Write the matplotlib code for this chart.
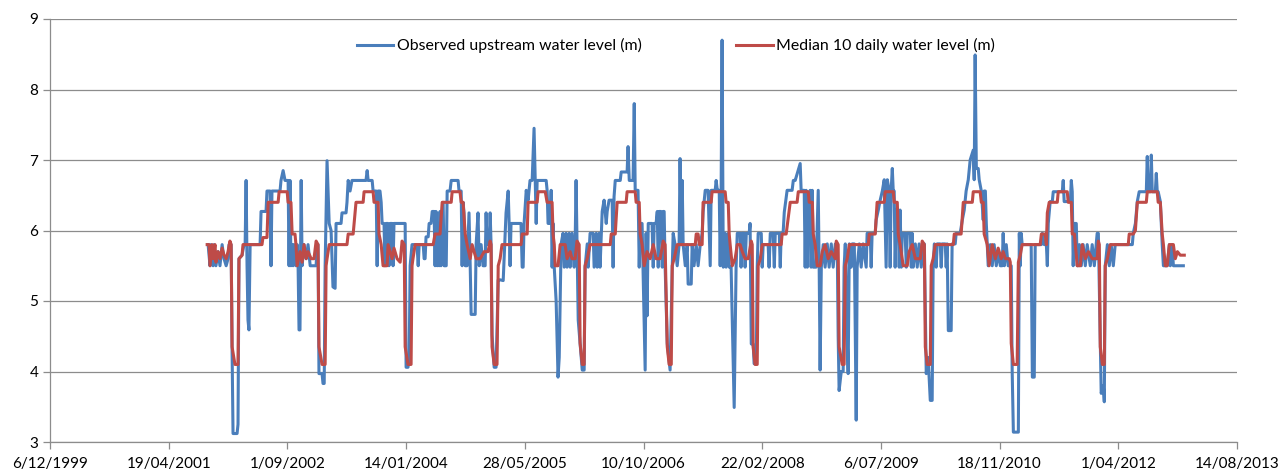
import datetime as dt
import matplotlib
matplotlib.use("Agg")
import matplotlib.pyplot as plt
from matplotlib.ticker import FuncFormatter, MultipleLocator

# Excel date serials (days since 30/12/1899) and water levels (m)
obs_days = [
    37166, 37174, 37178, 37187, 37191, 37199, 37208, 37216, 37225, 37233, 37242, 37250, 37254, 37263,
    37267, 37271, 37288, 37292, 37296, 37309, 37317, 37322, 37326, 37330, 37334, 37338, 37343, 37385,
    37389, 37410, 37414, 37427, 37431, 37435, 37469, 37473, 37482, 37490, 37503, 37507, 37511, 37515,
    37520, 37524, 37528, 37536, 37541, 37545, 37549, 37553, 37558, 37562, 37570, 37579, 37587, 37596,
    37621, 37625, 37629, 37633, 37646, 37650, 37655, 37659, 37667, 37671, 37676, 37684, 37692, 37701,
    37705, 37726, 37730, 37747, 37751, 37756, 37764, 37772, 37831, 37836, 37840, 37857, 37861, 37874,
    37878, 37882, 37890, 37895, 37899, 37907, 37911, 37916, 37924, 37928, 37933, 37941, 37945, 37949,
    37996, 38000, 38008, 38013, 38017, 38025, 38046, 38051, 38055, 38072, 38076, 38080, 38084, 38093,
    38097, 38105, 38110, 38118, 38122, 38126, 38131, 38135, 38139, 38143, 38147, 38156, 38160, 38169,
    38173, 38185, 38190, 38219, 38223, 38232, 38236, 38240, 38244, 38249, 38257, 38265, 38270, 38274,
    38291, 38295, 38303, 38308, 38316, 38324, 38333, 38337, 38341, 38350, 38354, 38358, 38362, 38371,
    38379, 38388, 38396, 38409, 38413, 38421, 38430, 38434, 38438, 38442, 38484, 38489, 38493, 38497,
    38506, 38514, 38522, 38531, 38539, 38548, 38552, 38590, 38594, 38598, 38607, 38611, 38615, 38619,
    38624, 38632, 38640, 38645, 38653, 38661, 38666, 38674, 38678, 38687, 38691, 38699, 38708, 38712,
    38716, 38720, 38725, 38733, 38742, 38750, 38754, 38763, 38767, 38775, 38788, 38792, 38801, 38805,
    38813, 38817, 38826, 38834, 38843, 38847, 38855, 38868, 38872, 38876, 38881, 38902, 38906, 38931,
    38935, 38940, 38956, 38961, 38965, 38977, 38982, 38986, 38994, 39007, 39011, 39015, 39020, 39036,
    39041, 39045, 39053, 39058, 39062, 39066, 39074, 39079, 39083, 39087, 39091, 39100, 39112, 39121,
    39125, 39133, 39142, 39150, 39154, 39159, 39163, 39167, 39176, 39184, 39188, 39201, 39205, 39213,
    39222, 39230, 39239, 39247, 39251, 39260, 39272, 39281, 39285, 39302, 39306, 39311, 39319, 39323,
    39327, 39331, 39336, 39344, 39348, 39357, 39361, 39369, 39382, 39386, 39390, 39395, 39407, 39411,
    39416, 39424, 39428, 39433, 39445, 39449, 39454, 39462, 39466, 39475, 39479, 39483, 39496, 39500,
    39504, 39525, 39529, 39534, 39546, 39551, 39555, 39572, 39576, 39580, 39588, 39593, 39605, 39626,
    39631, 39639, 39660, 39664, 39677, 39681, 39685, 39690, 39694, 39702, 39706, 39711, 39715, 39727,
    39736, 39740, 39744, 39749, 39757, 39765, 39774, 39782, 39791, 39799, 39808, 39816, 39820, 39824,
    39833, 39841, 39845, 39850, 39858, 39862, 39867, 39875, 39879, 39888, 39892, 39896, 39900, 39909,
    39917, 39925, 39938, 39942, 39955, 39959, 39963, 39976, 39980, 39989, 39997, 40006, 40014, 40022,
    40027, 40035, 40039, 40043, 40048, 40052, 40056, 40060, 40065, 40073, 40077, 40081, 40086, 40090,
    40102, 40107, 40111, 40124, 40128, 40132, 40136, 40145, 40153, 40161, 40170, 40178, 40183, 40191,
    40199, 40208, 40216, 40220, 40225, 40233, 40237, 40250, 40254, 40258, 40271, 40275, 40279, 40284,
    40296, 40300, 40313, 40317, 40334, 40343, 40351, 40359, 40368, 40376, 40389, 40393, 40397, 40402,
    40410, 40414, 40423, 40431, 40435, 40440, 40444, 40452, 40461, 40469, 40477, 40486, 40494, 40503,
    40511, 40515, 40520, 40528, 40536, 40545, 40549, 40553, 40558, 40579, 40583, 40587, 40591, 40595,
    40633, 40638, 40646, 40650, 40676, 40680, 40688, 40697, 40701, 40705, 40713, 40722, 40726, 40764,
    40768, 40772, 40798, 40802, 40806, 40810, 40815, 40823, 40827, 40836, 40844, 40852, 40861, 40869,
    40882, 40890, 40899, 40907, 40911, 40916, 40924, 40928, 40937, 40941, 40945, 40954, 40962, 40970,
    40979, 40987, 41059, 41063, 41072, 41080, 41088, 41118, 41122, 41126, 41135, 41139, 41143, 41156,
    41160, 41164, 41168, 41177, 41185, 41190, 41206, 41215, 41219, 41227, 41232, 41274,
]
obs_level = [
    5.80, 5.50, 5.80, 5.50, 5.80, 5.50, 5.70, 5.50, 5.80, 5.60, 5.50, 5.60, 5.80, 5.80,
    4.30, 3.12, 3.12, 3.25, 5.60, 5.65, 5.80, 5.80, 6.71, 5.50, 4.73, 4.59, 5.80, 5.80,
    6.27, 6.27, 6.56, 6.56, 5.50, 6.56, 6.56, 6.71, 6.85, 6.71, 6.71, 5.50, 6.71, 5.50,
    5.80, 5.50, 5.80, 5.50, 5.80, 5.50, 4.59, 4.59, 6.71, 5.50, 5.80, 5.60, 5.80, 5.50,
    5.50, 5.80, 5.80, 3.97, 3.97, 3.83, 3.83, 5.50, 6.99, 6.60, 6.10, 6.00, 5.20, 5.18,
    6.10, 6.10, 6.25, 6.25, 6.40, 6.71, 6.56, 6.71, 6.71, 6.85, 6.71, 6.71, 6.56, 6.56,
    5.50, 6.56, 6.56, 6.40, 6.10, 6.10, 5.50, 6.10, 6.10, 5.50, 6.10, 6.10, 5.50, 6.10,
    6.10, 4.06, 4.06, 4.20, 5.50, 5.80, 5.80, 5.50, 5.80, 5.80, 5.60, 5.60, 5.91, 5.91,
    6.10, 6.10, 6.27, 6.27, 5.50, 6.27, 5.50, 6.10, 5.50, 6.27, 5.50, 6.40, 5.50, 5.50,
    6.56, 6.56, 6.71, 6.71, 6.56, 6.56, 5.50, 6.40, 6.25, 5.50, 5.50, 6.25, 5.50, 4.81,
    4.81, 5.80, 6.25, 5.50, 5.80, 5.50, 5.50, 6.25, 5.80, 5.80, 6.25, 5.80, 4.52, 4.06,
    4.06, 5.30, 5.30, 5.29, 5.60, 6.25, 6.56, 6.10, 5.50, 6.10, 6.10, 5.48, 5.48, 6.10,
    6.57, 6.43, 6.71, 6.71, 7.45, 6.10, 6.71, 6.71, 6.57, 6.10, 6.10, 6.57, 5.48, 6.10,
    5.48, 5.00, 3.92, 4.20, 5.81, 5.96, 5.48, 5.96, 5.48, 5.96, 5.48, 5.96, 5.48, 5.81,
    6.71, 5.81, 4.73, 4.40, 4.02, 4.02, 5.48, 5.81, 5.48, 5.96, 5.96, 5.48, 5.96, 5.48,
    5.96, 5.48, 6.27, 6.43, 6.10, 6.27, 6.43, 6.43, 5.48, 6.48, 6.71, 6.71, 6.83, 6.83,
    7.19, 6.71, 6.71, 7.80, 6.57, 6.57, 5.48, 6.10, 6.10, 4.02, 5.96, 4.79, 6.10, 6.10,
    5.48, 6.10, 6.10, 6.27, 5.48, 6.27, 6.27, 5.48, 6.27, 6.27, 5.50, 4.40, 4.02, 5.48,
    5.96, 5.80, 5.50, 5.80, 7.02, 5.80, 6.71, 5.80, 5.50, 5.80, 5.24, 5.24, 5.80, 5.50,
    5.80, 5.50, 5.80, 5.96, 6.26, 6.57, 6.57, 5.50, 6.57, 6.57, 6.71, 6.57, 6.57, 5.50,
    6.57, 8.70, 5.48, 5.96, 5.48, 5.96, 5.48, 5.48, 3.49, 4.50, 5.48, 5.96, 5.96, 5.48,
    5.96, 5.96, 5.48, 5.96, 5.96, 6.10, 4.39, 4.39, 4.11, 4.11, 5.48, 5.96, 5.96, 5.48,
    5.80, 5.80, 5.48, 5.96, 5.96, 5.48, 5.96, 5.96, 5.48, 5.96, 5.96, 6.26, 6.57, 6.57,
    6.71, 6.71, 6.95, 6.57, 6.57, 5.48, 6.57, 5.48, 6.26, 6.57, 5.48, 6.57, 5.48, 5.48,
    6.57, 5.48, 4.02, 5.48, 5.80, 5.48, 5.81, 5.48, 5.81, 5.48, 5.81, 5.81, 4.50, 3.73,
    4.00, 4.00, 5.48, 5.81, 4.50, 3.97, 5.81, 5.48, 5.81, 5.81, 4.50, 3.31, 5.48, 5.81,
    5.48, 5.81, 5.48, 5.96, 5.96, 5.48, 5.96, 5.96, 6.15, 6.29, 6.43, 6.56, 6.72, 5.48,
    6.72, 6.56, 5.48, 6.56, 6.88, 6.56, 6.56, 5.48, 6.29, 6.29, 5.48, 6.29, 5.48, 5.96,
    5.96, 5.48, 5.96, 5.96, 5.48, 5.96, 5.48, 5.81, 5.48, 5.81, 5.48, 5.81, 5.81, 3.97,
    4.20, 3.59, 3.59, 5.48, 5.81, 5.48, 5.81, 5.81, 5.48, 5.81, 5.81, 5.48, 5.81, 4.58,
    4.58, 5.81, 5.81, 5.96, 5.96, 6.15, 6.29, 6.56, 6.72, 7.00, 7.14, 6.72, 8.49, 6.88,
    6.88, 6.72, 6.56, 6.15, 6.56, 6.56, 6.10, 5.50, 5.80, 5.50, 5.80, 5.50, 5.70, 5.50,
    5.50, 5.96, 5.50, 5.80, 5.50, 5.50, 5.50, 4.00, 3.14, 3.14, 5.96, 5.50, 5.96, 5.80,
    5.80, 3.92, 3.92, 5.80, 5.80, 5.96, 5.80, 5.80, 5.50, 6.10, 6.41, 6.41, 6.55, 6.55,
    6.71, 6.41, 6.41, 6.71, 6.55, 5.50, 6.10, 6.10, 5.50, 5.80, 5.50, 5.80, 5.50, 5.80,
    5.50, 5.80, 5.50, 5.80, 5.96, 5.96, 4.50, 3.69, 3.80, 3.57, 5.50, 5.80, 5.50, 5.80,
    5.50, 5.80, 5.80, 5.96, 6.10, 6.41, 6.55, 6.55, 7.05, 6.55, 6.55, 7.07, 6.55, 6.55,
    6.81, 6.55, 6.55, 6.41, 5.80, 5.50, 5.50, 5.80, 5.50, 5.80, 5.50, 5.50,
]

med_days = [
    37162, 37170, 37174, 37183, 37187, 37195, 37199, 37208, 37216, 37225, 37233, 37242, 37250, 37258,
    37263, 37267, 37279, 37292, 37296, 37309, 37313, 37393, 37397, 37414, 37419, 37461, 37465, 37499,
    37503, 37515, 37520, 37532, 37536, 37541, 37553, 37562, 37570, 37579, 37587, 37600, 37612, 37621,
    37629, 37633, 37646, 37659, 37663, 37667, 37676, 37751, 37756, 37777, 37789, 37819, 37823, 37861,
    37865, 37882, 37886, 37895, 37903, 37920, 37924, 37941, 37949, 37962, 37975, 37983, 37992, 37996,
    38008, 38021, 38025, 38029, 38038, 38114, 38122, 38143, 38152, 38190, 38194, 38227, 38232, 38240,
    38249, 38257, 38270, 38278, 38295, 38312, 38329, 38345, 38354, 38358, 38362, 38371, 38383, 38388,
    38396, 38404, 38484, 38489, 38510, 38514, 38552, 38556, 38586, 38594, 38615, 38619, 38624, 38628,
    38640, 38649, 38670, 38678, 38691, 38699, 38712, 38720, 38729, 38733, 38742, 38750, 38754, 38763,
    38775, 38860, 38864, 38881, 38889, 38927, 38931, 38965, 38969, 38982, 38986, 38994, 39003, 39015,
    39028, 39041, 39053, 39070, 39083, 39091, 39100, 39108, 39117, 39121, 39129, 39142, 39218, 39222,
    39230, 39235, 39247, 39251, 39285, 39289, 39344, 39348, 39357, 39361, 39365, 39374, 39386, 39395,
    39407, 39416, 39428, 39441, 39454, 39458, 39462, 39470, 39479, 39483, 39492, 39500, 39580, 39584,
    39601, 39618, 39647, 39652, 39694, 39698, 39711, 39715, 39723, 39732, 39744, 39753, 39765, 39778,
    39791, 39808, 39812, 39820, 39824, 39837, 39845, 39850, 39858, 39867, 39947, 39951, 39976, 39984,
    40014, 40018, 40052, 40056, 40069, 40073, 40081, 40094, 40111, 40119, 40132, 40145, 40166, 40174,
    40183, 40187, 40195, 40208, 40212, 40220, 40229, 40305, 40309, 40338, 40347, 40385, 40389, 40418,
    40423, 40431, 40435, 40448, 40456, 40469, 40482, 40494, 40507, 40515, 40524, 40541, 40545, 40549,
    40558, 40574, 40579, 40587, 40595, 40671, 40676, 40692, 40697, 40701, 40709, 40743, 40747, 40785,
    40789, 40802, 40806, 40815, 40819, 40827, 40840, 40848, 40861, 40874, 40890, 40911, 40916, 40920,
    40924, 40933, 40941, 40945, 40954, 40966, 41042, 41046, 41063, 41072, 41080, 41118, 41122, 41164,
    41168, 41177, 41185, 41190, 41198, 41206, 41215, 41232, 41240, 41249, 41261, 41278,
]
med_level = [
    5.80, 5.80, 5.50, 5.80, 5.60, 5.80, 5.55, 5.70, 5.60, 5.75, 5.65, 5.60, 5.70, 5.85,
    5.80, 4.35, 4.10, 4.10, 5.60, 5.65, 5.80, 5.80, 5.90, 5.90, 6.40, 6.40, 6.55, 6.55,
    6.40, 6.40, 5.95, 5.95, 5.80, 5.50, 5.70, 5.55, 5.80, 5.60, 5.70, 5.60, 5.60, 5.85,
    5.80, 4.35, 4.10, 4.10, 5.50, 5.60, 5.80, 5.80, 5.95, 5.95, 6.40, 6.40, 6.55, 6.55,
    6.40, 6.40, 5.95, 5.80, 5.50, 5.50, 5.80, 5.60, 5.75, 5.60, 5.55, 5.85, 5.80, 4.35,
    4.10, 4.10, 5.50, 5.60, 5.80, 5.80, 5.95, 5.95, 6.40, 6.40, 6.55, 6.55, 6.40, 6.40,
    5.95, 5.80, 5.60, 5.80, 5.60, 5.60, 5.70, 5.70, 5.85, 5.80, 4.35, 4.10, 4.10, 5.50,
    5.60, 5.80, 5.80, 5.95, 5.95, 6.40, 6.40, 6.55, 6.55, 6.40, 6.40, 5.95, 5.80, 5.50,
    5.50, 5.80, 5.80, 5.60, 5.70, 5.60, 5.60, 5.85, 5.80, 4.40, 4.10, 4.10, 5.50, 5.60,
    5.80, 5.80, 5.95, 5.95, 6.40, 6.40, 6.55, 6.55, 6.40, 6.40, 5.95, 5.80, 5.50, 5.70,
    5.60, 5.80, 5.60, 5.60, 5.85, 5.80, 4.35, 4.10, 4.10, 5.50, 5.60, 5.80, 5.80, 5.95,
    5.95, 5.80, 5.80, 6.40, 6.40, 6.55, 6.55, 6.40, 6.40, 5.95, 5.80, 5.50, 5.60, 5.80,
    5.80, 5.70, 5.60, 5.60, 5.85, 5.80, 4.35, 4.10, 4.10, 5.50, 5.60, 5.80, 5.80, 5.95,
    5.95, 6.40, 6.40, 6.55, 6.55, 6.40, 6.40, 5.95, 5.80, 5.50, 5.50, 5.70, 5.80, 5.60,
    5.70, 5.60, 5.85, 5.80, 4.35, 4.10, 4.10, 5.50, 5.60, 5.80, 5.80, 5.95, 5.95, 6.40,
    6.40, 6.55, 6.55, 6.40, 6.40, 5.95, 5.80, 5.50, 5.50, 5.70, 5.80, 5.60, 5.60, 5.85,
    5.80, 4.35, 4.10, 4.10, 5.50, 5.60, 5.80, 5.80, 5.95, 5.95, 6.40, 6.40, 6.55, 6.55,
    6.40, 6.40, 5.95, 5.80, 5.50, 5.80, 5.60, 5.75, 5.60, 5.70, 5.60, 5.60, 5.55, 4.40,
    4.10, 4.10, 5.55, 5.65, 5.80, 5.80, 5.95, 5.95, 5.80, 6.25, 6.40, 6.40, 6.55, 6.55,
    6.40, 6.40, 5.95, 5.95, 5.80, 5.50, 5.50, 5.80, 5.60, 5.70, 5.60, 5.60, 5.85, 5.80,
    4.35, 4.10, 4.10, 5.50, 5.60, 5.80, 5.80, 5.95, 5.95, 6.00, 6.40, 6.40, 6.55, 6.55,
    6.40, 6.40, 5.95, 5.80, 5.50, 5.50, 5.80, 5.80, 5.60, 5.70, 5.65, 5.65,
]

EXCEL_EPOCH = dt.datetime(1899, 12, 30)


def excel_date_label(x, pos):
    d = EXCEL_EPOCH + dt.timedelta(days=int(round(x)))
    return f"{d.day}/{d.month:02d}/{d.year}"


plt.rcParams['font.family'] = ['Lato', 'DejaVu Sans']

fig = plt.figure(figsize=(12.81, 4.72), dpi=100)
ax = fig.add_axes([50 / 1281, 1 - 442 / 472, (1237 - 50) / 1281, (442 - 19) / 472])

ax.plot(obs_days, obs_level, color='#4a7ebb', lw=2.2, label='Observed upstream water level (m)',
        solid_joinstyle='round')
ax.plot(med_days, med_level, color='#be4b48', lw=2.2, label='Median 10 daily water level (m)',
        solid_joinstyle='round')

ax.set_xlim(36500, 41500)
ax.set_ylim(3, 9)
ax.xaxis.set_major_locator(MultipleLocator(500))
ax.xaxis.set_major_formatter(FuncFormatter(excel_date_label))
ax.yaxis.set_major_locator(MultipleLocator(1))

ax.grid(axis='y', color='#8c8c8c', lw=0.9)
ax.set_axisbelow(True)
for side in ['top', 'right']:
    ax.spines[side].set_visible(False)
for side in ['left', 'bottom']:
    ax.spines[side].set_color('#8c8c8c')
    ax.spines[side].set_linewidth(0.9)
ax.tick_params(axis='both', colors='#8c8c8c', length=5, width=0.9, labelsize=11, labelcolor='black')
ax.tick_params(axis='x', pad=6)

leg = ax.legend(loc='upper left', bbox_to_anchor=(357 / 1281, 1 - 38 / 472), bbox_transform=fig.transFigure,
                ncol=2, frameon=False, fontsize=11.4, handlelength=2.3, handletextpad=0.2,
                columnspacing=6.0, borderpad=0, borderaxespad=0)

fig.savefig('out.png', dpi=100)
